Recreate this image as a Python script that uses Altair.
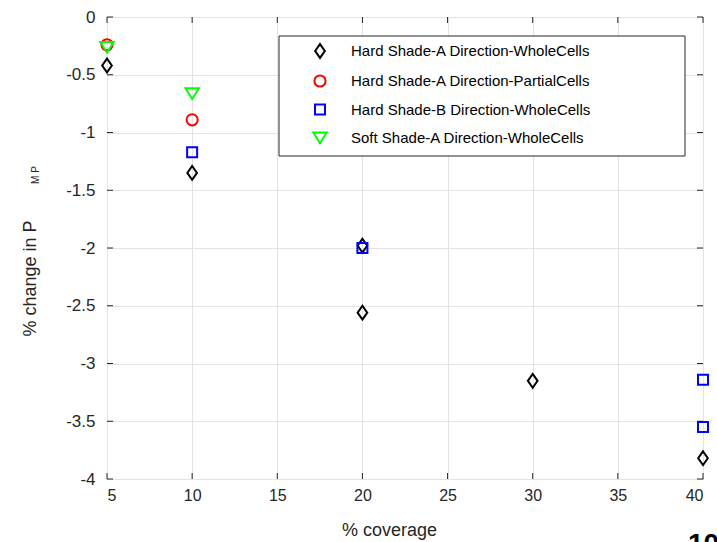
import altair as alt
import pandas as pd

series_names = [
    "Hard Shade-A Direction-WholeCells",
    "Hard Shade-A Direction-PartialCells",
    "Hard Shade-B Direction-WholeCells",
    "Soft Shade-A Direction-WholeCells",
]
series_colors = ["#000000", "#ff0000", "#0000ff", "#00ff00"]

hard_a_whole_x = [5, 10, 20, 20, 30, 40]
hard_a_whole_y = [-0.42, -1.35, -1.98, -2.56, -3.15, -3.82]
hard_a_partial_x = [5, 10]
hard_a_partial_y = [-0.24, -0.89]
hard_b_whole_x = [10, 20, 40, 40]
hard_b_whole_y = [-1.17, -2.0, -3.14, -3.55]
soft_a_whole_x = [5, 10]
soft_a_whole_y = [-0.26, -0.66]

x_ticks = [5, 10, 15, 20, 25, 30, 35, 40]
y_ticks = [0, -0.5, -1, -1.5, -2, -2.5, -3, -3.5, -4]

rows = []
for k, (xs, ys) in enumerate([(hard_a_whole_x, hard_a_whole_y),
                              (hard_a_partial_x, hard_a_partial_y),
                              (hard_b_whole_x, hard_b_whole_y),
                              (soft_a_whole_x, soft_a_whole_y)]):
    for xv, yv in zip(xs, ys):
        rows.append({"x": xv, "y": yv, "series": series_names[k], "ord": k})
df = pd.DataFrame(rows)

W, H = 596, 462
AX = "#262626"
diamond = "M0,-1L0.7,0L0,1L-0.7,0Z"
tri_down = "M-1,-0.75L1,-0.75L0,0.85Z"

xscale = alt.Scale(domain=[5, 40], nice=False, zero=False)
yscale = alt.Scale(domain=[-4, 0], nice=False, zero=False)
xaxis = alt.Axis(values=x_ticks, title="% coverage", titleX=282, titleY=42,
                 titleBaseline="top", labelPadding=8)
yaxis = alt.Axis(values=y_ticks, title="% change in P", titleX=-68, titleY=261,
                 labelPadding=12, labelFontSize=17, labelExpr="toString(datum.value)")

points = alt.Chart(df).mark_point(filled=False, strokeWidth=2, opacity=1).encode(
    x=alt.X("x:Q", scale=xscale, axis=xaxis),
    y=alt.Y("y:Q", scale=yscale, axis=yaxis),
    color=alt.Color("series:N", scale=alt.Scale(domain=series_names, range=series_colors), title=None),
    shape=alt.Shape("series:N", scale=alt.Scale(domain=series_names,
                    range=[diamond, "circle", "square", tri_down]), title=None),
    size=alt.Size("series:N", scale=alt.Scale(type="ordinal", domain=series_names,
                  range=[190, 125, 100, 180]), title=None),
    order=alt.Order("ord:Q"),
)

xt = pd.DataFrame({"x": x_ticks})
yt = pd.DataFrame({"y": y_ticks})
tick_bottom = alt.Chart(xt).mark_rule(color=AX).encode(
    x=alt.X("x:Q", scale=xscale, axis=xaxis), y=alt.value(H), y2=alt.value(H - 6))
tick_top = alt.Chart(xt).mark_rule(color=AX).encode(
    x=alt.X("x:Q", scale=xscale, axis=xaxis), y=alt.value(0), y2=alt.value(6))
tick_left = alt.Chart(yt).mark_rule(color=AX).encode(
    y=alt.Y("y:Q", scale=yscale, axis=yaxis), x=alt.value(0), x2=alt.value(6))
tick_right = alt.Chart(yt).mark_rule(color=AX).encode(
    y=alt.Y("y:Q", scale=yscale, axis=yaxis), x=alt.value(W), x2=alt.value(W - 6))

one = pd.DataFrame({"t": [1]})
legend_box = alt.Chart(one).mark_rect(fill="white", stroke=AX, strokeWidth=1).encode(
    x=alt.value(172), x2=alt.value(578), y=alt.value(19), y2=alt.value(139))

sub = alt.Chart(one).mark_text(text="M P", fontSize=10, angle=270, align="center",
                               baseline="middle", color=AX, font="Liberation Sans").encode(
    x=alt.value(-71), y=alt.value(158))

corner = alt.Chart(one).mark_text(text="10", fontSize=28, fontWeight="bold", align="left",
                                  baseline="alphabetic", color="#000000",
                                  font="Liberation Sans").encode(
    x=alt.value(581), y=alt.value(536))

chart = alt.layer(legend_box, tick_bottom, tick_top, tick_left, tick_right, points, sub, corner).properties(
    width=W, height=H,
    autosize=alt.AutoSizeParams(type="none"),
    padding={"left": 107, "top": 17, "right": 14, "bottom": 63},
).configure_view(stroke=AX, strokeWidth=1).configure_axis(
    grid=True, gridColor="#e3e3e3", gridWidth=1, domain=False, ticks=False,
    labelFont="Liberation Sans", labelFontSize=16, labelColor=AX,
    titleFont="Liberation Sans", titleFontSize=18, titleColor=AX, titleFontWeight="normal",
).configure_legend(
    orient="none", legendX=205, legendY=26, padding=0, rowPadding=8.5,
    labelFont="Liberation Sans", labelFontSize=15, labelColor="#000000", labelOffset=23,
    symbolStrokeWidth=2, labelLimit=400,
)

chart.save("out.html", embed_options={"renderer": "svg", "actions": False})
